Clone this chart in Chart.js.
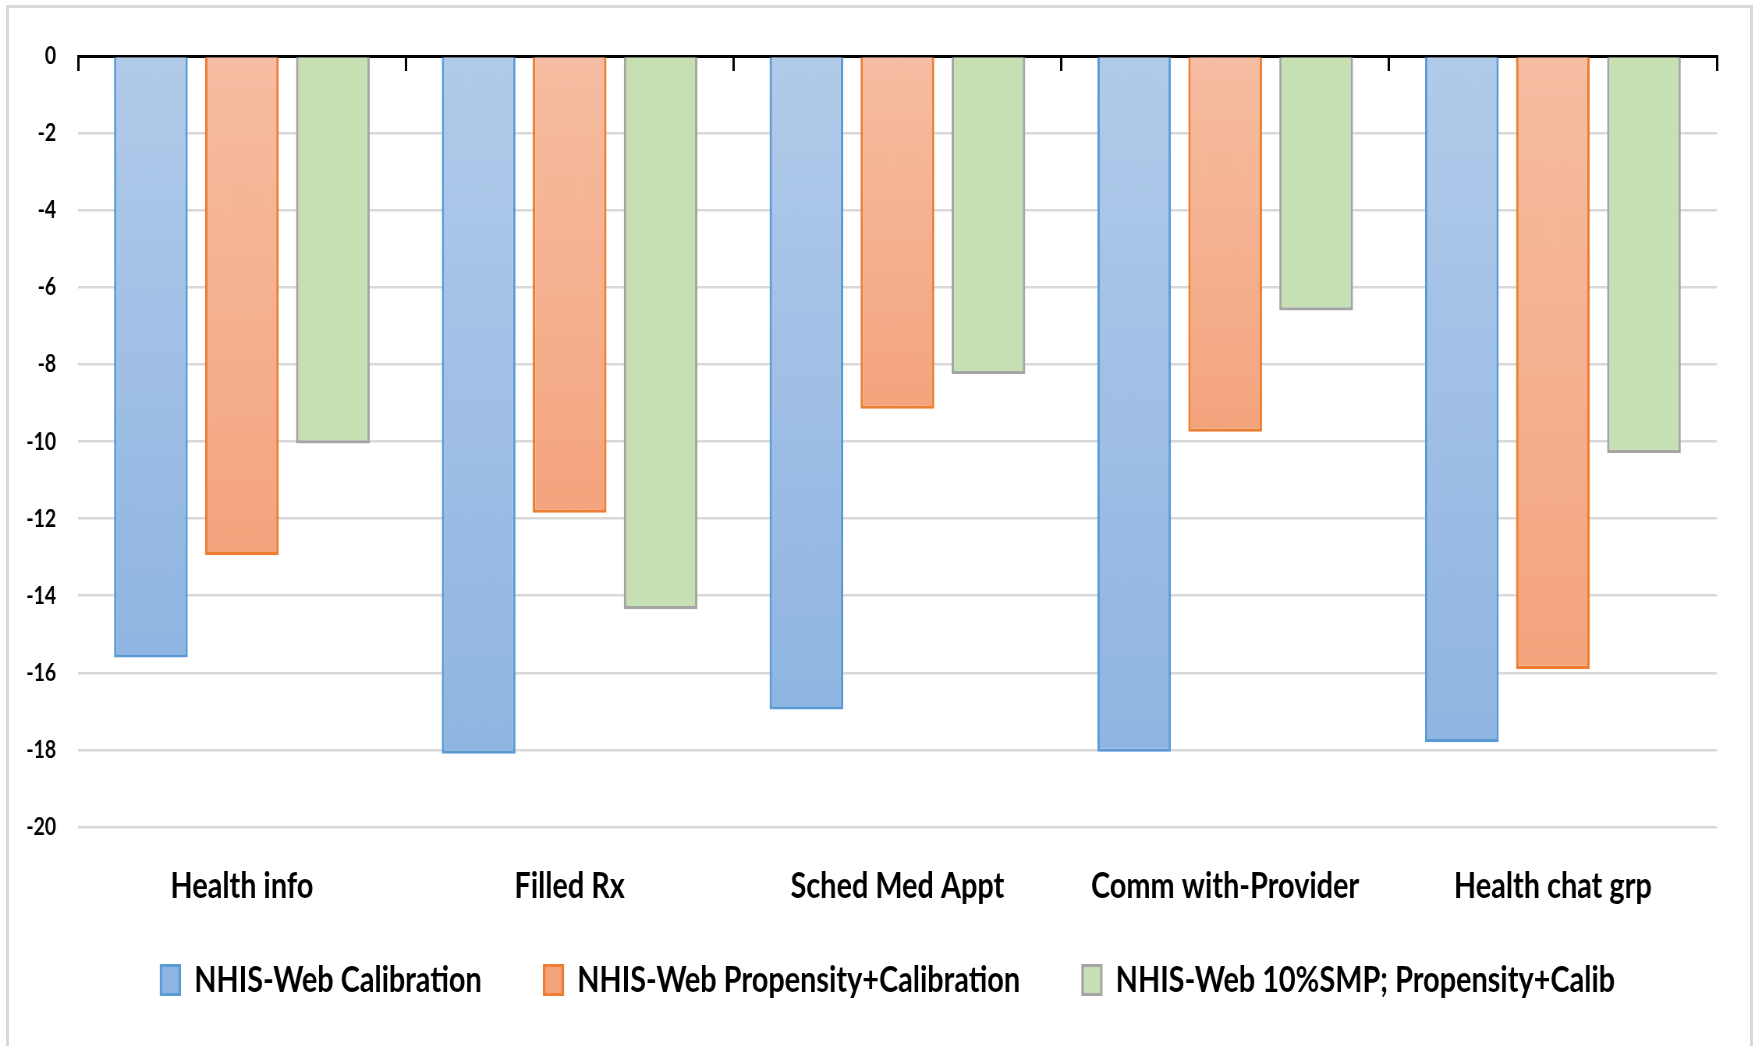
<!DOCTYPE html>
<html>
<head>
<meta charset="utf-8">
<title>NHIS-Web estimates by outcome</title>
<script src="https://cdn.jsdelivr.net/npm/chart.js@4.4.1/dist/chart.umd.min.js"></script>
<style>
  html, body { margin: 0; padding: 0; background: #ffffff; }
  body { width: 1759px; height: 1046px; position: relative; overflow: hidden; }
  #frame {
    position: absolute; left: 6px; top: 5px; width: 1747px; height: 1100px;
    box-sizing: border-box; border: 3px solid #d9d9d9; border-bottom: none;
  }
  /* The chart is laid out on a wider canvas and set in a condensed face by scaling it horizontally */
  #wrap {
    position: absolute; left: 0; top: 0; width: 2255px; height: 1046px;
    transform: scaleX(0.78); transform-origin: 0 0;
  }
  #wrap canvas { display: block; }
</style>
</head>
<body>
<div id="frame"></div>
<div id="wrap"><canvas id="chart" width="2255" height="1046"></canvas></div>
<script>
// Outcome categories along the x axis
const categories = ['Health info', 'Filled Rx', 'Sched Med Appt', 'Comm with-Provider', 'Health chat grp'];

// Series names
const seriesNames = [
  'NHIS-Web Calibration',
  'NHIS-Web Propensity+Calibration',
  'NHIS-Web 10%SMP; Propensity+Calib'
];

// Series values, one per category
const calibration = [-15.6, -18.1, -16.95, -18.05, -17.8];
const propensityCalibration = [-12.95, -11.85, -9.15, -9.75, -15.9];
const smpPropensityCalib = [-10.05, -14.35, -8.25, -6.6, -10.3];

// Value axis range and step
const yMin = -20;
const yMax = 0;
const yStep = 2;

const FONT = "Lato, 'Open Sans', 'Liberation Sans', sans-serif";

// Each bar is shaded from the zero line down to its own end
function shaded(topColor, bottomColor, flat) {
  return (ctx) => {
    const chart = ctx.chart;
    if (ctx.type !== 'data' || !chart.chartArea) return flat;
    const y = chart.scales.y;
    const y0 = y.getPixelForValue(0);
    const y1 = y.getPixelForValue(ctx.raw);
    if (!isFinite(y0) || !isFinite(y1) || y0 === y1) return flat;
    const g = chart.ctx.createLinearGradient(0, y0, 0, y1);
    g.addColorStop(0, topColor);
    g.addColorStop(1, bottomColor);
    return g;
  };
}

new Chart(document.getElementById('chart'), {
  type: 'bar',
  data: {
    labels: categories,
    datasets: [
      {
        label: seriesNames[0],
        data: calibration,
        backgroundColor: shaded('#b1cae9', '#8fb5e2', '#a3c0e6'),
        borderColor: '#5b9bd5',
        borderWidth: 3.2
      },
      {
        label: seriesNames[1],
        data: propensityCalibration,
        backgroundColor: shaded('#f6bda2', '#f4a47d', '#f5b08f'),
        borderColor: '#ed7d31',
        borderWidth: 3.2
      },
      {
        label: seriesNames[2],
        data: smpPropensityCalib,
        backgroundColor: '#c6e0b4',
        borderColor: '#a5a5a5',
        borderWidth: 3.2
      }
    ]
  },
  options: {
    responsive: false,
    animation: false,
    devicePixelRatio: 1,
    categoryPercentage: 0.833,
    barPercentage: 0.81,
    layout: { padding: { top: 56, left: 22, right: 0, bottom: 37.5 } },
    plugins: {
      tooltip: { enabled: false },
      legend: {
        position: 'bottom',
        align: 'center',
        // empty title only opens space between the category labels and the keys
        title: { display: true, text: '', font: { size: 10 }, padding: { top: 42.5, bottom: 0 } },
        labels: {
          boxWidth: 24,
          boxHeight: 29,
          padding: 80,
          color: '#000000',
          font: { family: FONT, size: 37, weight: 'bold' }
        }
      }
    },
    scales: {
      // Category labels sit under the -20 line
      x: {
        type: 'category',
        position: { y: yMin },
        offset: true,
        grid: { display: false, drawTicks: false },
        border: { display: false },
        ticks: {
          padding: 37,
          color: '#000000',
          maxRotation: 0,
          autoSkip: false,
          font: { family: FONT, size: 37, weight: 'bold' }
        },
        afterFit: (s) => { s.height = 0; }
      },
      // Zero line with category tick marks hanging below it
      x2: {
        type: 'category',
        position: { y: 0 },
        offset: true,
        grid: {
          offset: true,
          drawOnChartArea: false,
          drawTicks: true,
          tickLength: 13,
          color: '#000000',
          lineWidth: 3
        },
        border: { display: true, color: '#000000', width: 3 },
        ticks: { display: false },
        afterFit: (s) => { s.height = 0; }
      },
      y: {
        min: yMin,
        max: yMax,
        position: 'left',
        ticks: {
          stepSize: yStep,
          padding: 28,
          color: '#000000',
          font: { family: FONT, size: 25, weight: 'bold' }
        },
        grid: { color: '#d9d9d9', lineWidth: 2.5, drawTicks: false },
        border: { display: false },
        afterFit: (s) => { s.width = 78; }
      },
      // Blank right margin of the plot
      yRight: {
        type: 'linear',
        position: 'right',
        ticks: { display: false },
        grid: { drawOnChartArea: false, drawTicks: false },
        border: { display: false },
        afterFit: (s) => { s.width = 54; }
      }
    }
  }
});
</script>
</body>
</html>
